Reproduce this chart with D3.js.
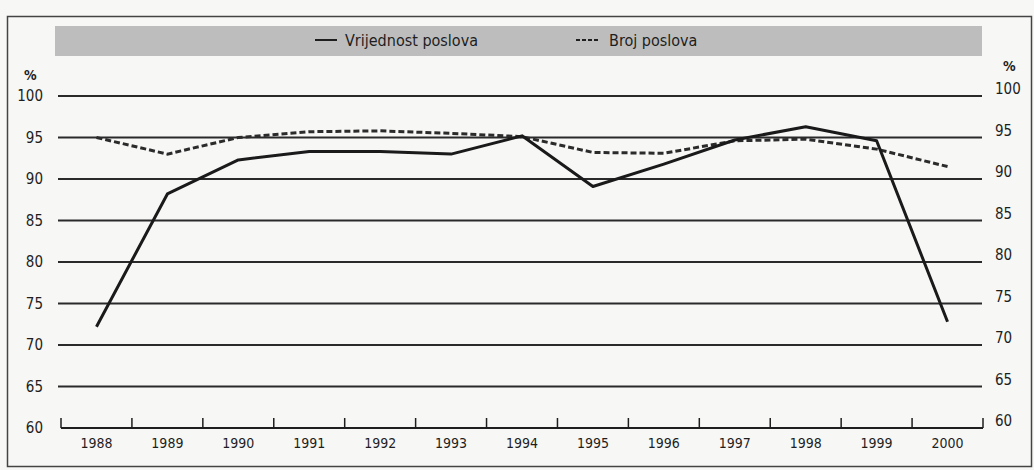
<!DOCTYPE html>
<html>
<head>
<meta charset="utf-8">
<script src="https://cdn.jsdelivr.net/npm/d3@7"></script>
<style>
  html, body { margin: 0; padding: 0; background: #f7f7f6; }
  svg { display: block; }
  text { font-family: "DejaVu Sans Condensed", "DejaVu Sans", sans-serif; font-stretch: condensed; fill: #1e1e1e; }
</style>
</head>
<body>
<svg class="js-graph"></svg>
<script>
/* <DATA> */
var years = ['1988', '1989', '1990', '1991', '1992', '1993', '1994',
  '1995', '1996', '1997', '1998', '1999', '2000'];
var vrijednostPoslova = [72.2, 88.2, 92.3, 93.3, 93.3, 93.0, 95.2, 89.1, 91.8, 94.7, 96.3, 94.6, 72.8];
var brojPoslova = [95.0, 93.0, 95.0, 95.7, 95.8, 95.5, 95.1, 93.2, 93.1, 94.6, 94.8, 93.6, 91.5];
var yTicks = [60, 65, 70, 75, 80, 85, 90, 95, 100];
var legendLabels = ['Vrijednost poslova', 'Broj poslova'];
/* </DATA> */

(function drawChart(d3) {
  var width = 1034;
  var height = 470;
  var ink = '#1e1e1e';

  var svg = d3.select('.js-graph')
    .attr('width', width)
    .attr('height', height);

  // outer frame of the figure
  svg.append('rect')
    .attr('x', 7.5).attr('y', 16.5)
    .attr('width', 1024).attr('height', 450)
    .attr('fill', 'none')
    .attr('stroke', '#444')
    .attr('stroke-width', 1.5);

  /* <SCALES> */
  var x = d3.scaleBand()
    .domain(years)
    .range([61, 983])
    .padding(0);

  var y = d3.scaleLinear()
    .domain([60, 100])
    .range([428, 96]);

  var cx = function centerOf(year) {
    return x(year) + x.bandwidth() / 2;
  };
  /* </SCALES> */

  /* <LEGEND BAND> */
  svg.append('rect')
    .attr('x', 55).attr('y', 26)
    .attr('width', 927).attr('height', 30)
    .attr('fill', '#bdbdbd');

  var legend = [
    { label: legendLabels[0], x1: 315, x2: 337, tx: 345, dash: null },
    { label: legendLabels[1], x1: 576, x2: 598, tx: 609, dash: '4,2' }
  ];
  legend.forEach(function addItem(item) {
    svg.append('line')
      .attr('x1', item.x1).attr('x2', item.x2)
      .attr('y1', 40).attr('y2', 40)
      .attr('stroke', ink)
      .attr('stroke-width', 2)
      .attr('stroke-dasharray', item.dash);
    svg.append('text')
      .attr('x', item.tx).attr('y', 46)
      .style('font-size', '16px')
      .text(item.label);
  });
  /* </LEGEND BAND> */

  /* <GRID AND AXES> */
  var grid = svg.append('g');
  grid.selectAll('line')
    .data(yTicks.filter(function (t) { return t > 60; }))
    .enter().append('line')
    .attr('x1', 58).attr('x2', 982)
    .attr('y1', function (d) { return y(d); })
    .attr('y2', function (d) { return y(d); })
    .attr('stroke', '#2a2a2a')
    .attr('stroke-width', 2);

  // bottom axis: base line with upward ticks between the years
  var xAxis = svg.append('g')
    .attr('transform', 'translate(0,' + y(60) + ')');
  xAxis.append('line')
    .attr('x1', x.range()[0]).attr('x2', x.range()[1])
    .attr('stroke', ink).attr('stroke-width', 2);
  var tickXs = years.map(function (yr) { return x(yr); }).concat([x.range()[1]]);
  xAxis.selectAll('.tick-mark')
    .data(tickXs)
    .enter().append('line')
    .attr('class', 'tick-mark')
    .attr('x1', function (d) { return d; })
    .attr('x2', function (d) { return d; })
    .attr('y1', 0).attr('y2', -10)
    .attr('stroke', ink).attr('stroke-width', 1.5);
  xAxis.selectAll('.year')
    .data(years)
    .enter().append('text')
    .attr('class', 'year')
    .attr('x', cx)
    .attr('y', 20)
    .attr('text-anchor', 'middle')
    .style('font-size', '14px')
    .text(function (d) { return d; });

  // left labels
  svg.append('g').selectAll('text')
    .data(yTicks)
    .enter().append('text')
    .attr('x', 43)
    .attr('y', function (d) { return y(d) + 5; })
    .attr('text-anchor', 'end')
    .style('font-size', '15px')
    .text(function (d) { return d; });
  svg.append('text')
    .attr('x', 24).attr('y', 80)
    .style('font-size', '14px')
    .style('font-weight', 'bold')
    .text('%');

  // right labels (sit slightly above the line ends)
  svg.append('g').selectAll('text')
    .data(yTicks)
    .enter().append('text')
    .attr('x', 995)
    .attr('y', function (d) { return y(d) - 2; })
    .style('font-size', '15px')
    .text(function (d) { return d; });
  svg.append('text')
    .attr('x', 1003).attr('y', 71)
    .style('font-size', '14px')
    .style('font-weight', 'bold')
    .text('%');
  /* </GRID AND AXES> */

  /* <SERIES> */
  function seriesPoints(values) {
    return years.map(function (yr, i) { return [cx(yr), y(values[i])]; });
  }
  var lineGen = d3.line();

  svg.append('path')
    .attr('d', lineGen(seriesPoints(brojPoslova)))
    .attr('fill', 'none')
    .attr('stroke', '#2b2b2b')
    .attr('stroke-width', 3)
    .attr('stroke-dasharray', '6,3');

  svg.append('path')
    .attr('d', lineGen(seriesPoints(vrijednostPoslova)))
    .attr('fill', 'none')
    .attr('stroke', '#1a1a1a')
    .attr('stroke-width', 3)
    .attr('stroke-linejoin', 'round');
  /* </SERIES> */
}(d3));
</script>
</body>
</html>
